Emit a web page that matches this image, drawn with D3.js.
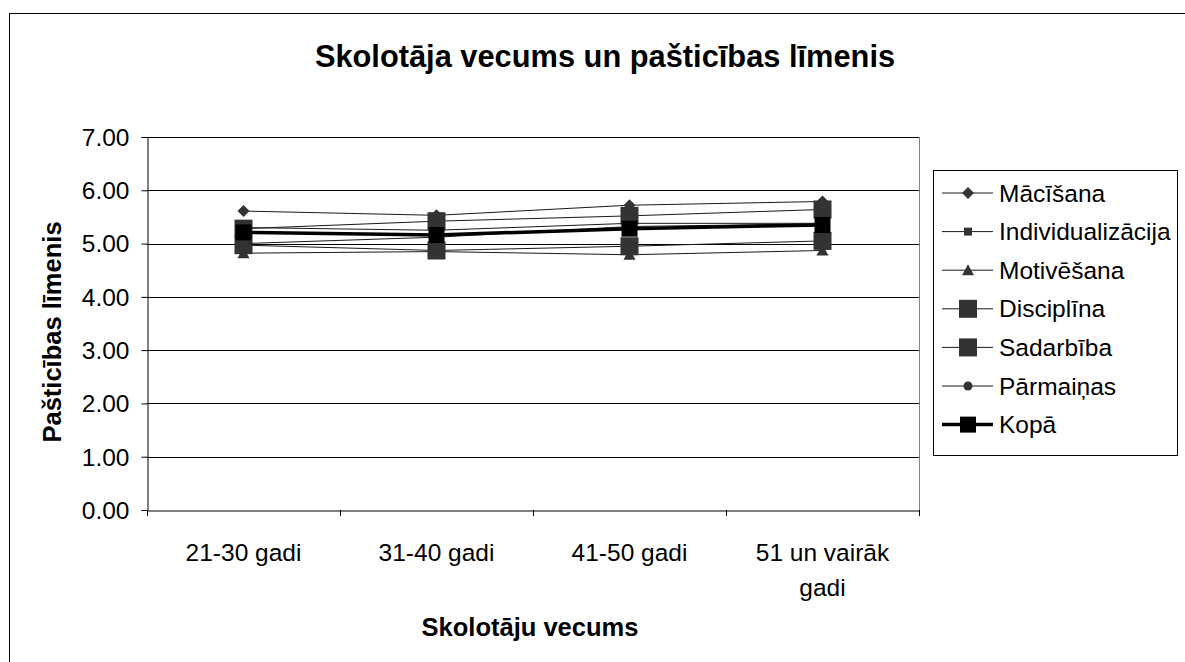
<!DOCTYPE html>
<html>
<head>
<meta charset="utf-8">
<script src="https://cdn.jsdelivr.net/npm/d3@7"></script>
<style>
  body { margin: 0; background: #fff; }
  text { font-family: "Liberation Sans", Arial, sans-serif; fill: #000; }
</style>
</head>
<body>
<script>
// data
const categories = ["21-30 gadi", "31-40 gadi", "41-50 gadi", "51 un vairāk gadi"];
const seriesNames = ["Mācīšana", "Individualizācija", "Motivēšana", "Disciplīna", "Sadarbība", "Pārmaiņas", "Kopā"];
const macisana = [5.61, 5.53, 5.72, 5.79];
const individualizacija = [5.30, 5.25, 5.38, 5.38];
const motivesana = [4.82, 4.85, 4.79, 4.87];
const disciplina = [4.97, 4.87, 4.95, 5.05];
const sadarbiba = [5.28, 5.42, 5.52, 5.64];
const parmainas = [5.00, 5.12, 5.32, 5.37];
const kopa = [5.21, 5.16, 5.28, 5.35];
const yTicks = [0, 1, 2, 3, 4, 5, 6, 7];

const allValues = [macisana, individualizacija, motivesana, disciplina, sadarbiba, parmainas, kopa];
const markers = ["diamond", "smallSquare", "triangle", "bigSquare", "bigSquare", "circle", "kopaSquare"];

const width = 1185, height = 662;
const svg = d3.select("body").append("svg").attr("width", width).attr("height", height);

// outer chart border
svg.append("rect").attr("x", 9.5).attr("y", 13.5).attr("width", width + 10).attr("height", height + 10)
   .attr("fill", "none").attr("stroke", "#000").attr("stroke-width", 1);

const plot = {left: 147, right: 919, top: 137, bottom: 510};

const x = d3.scaleBand().domain(categories).range([plot.left, plot.right]);
const y = d3.scaleLinear().domain([0, 7]).range([plot.bottom, plot.top]);

// gridlines
svg.append("g").selectAll("line").data(yTicks.slice(1)).enter().append("line")
   .attr("x1", plot.left).attr("x2", plot.right)
   .attr("y1", d => Math.round(y(d)) + 0.5).attr("y2", d => Math.round(y(d)) + 0.5)
   .attr("stroke", "#000").attr("stroke-width", 1);

// right border of plot area
svg.append("line").attr("x1", plot.right + 0.5).attr("x2", plot.right + 0.5)
   .attr("y1", plot.top).attr("y2", plot.bottom).attr("stroke", "#808080");

// y axis
const yAxis = d3.axisLeft(y).tickValues(yTicks).tickFormat(d3.format(".2f")).tickSize(6).tickPadding(12);
const gy = svg.append("g").attr("transform", `translate(${plot.left + 0.5},0)`).call(yAxis);
gy.selectAll("text").style("font-size", "24.5px").style("font-family", "Liberation Sans, Arial, sans-serif").attr("dy", "0.34em");
gy.selectAll("line").attr("stroke", "#000");
gy.select(".domain").attr("stroke", "#000");

// x axis
const xAxis = d3.axisBottom(x).tickSize(0).tickFormat("");
const gx = svg.append("g").attr("transform", `translate(0,${plot.bottom + 0.5})`).call(xAxis);
gx.select(".domain").attr("stroke", "#000");
const bounds = [0, 1, 2, 3, 4].map(i => plot.left + i * x.bandwidth());
svg.append("g").selectAll("line").data(bounds).enter().append("line")
   .attr("x1", d => Math.round(d) + 0.5).attr("x2", d => Math.round(d) + 0.5)
   .attr("y1", plot.bottom).attr("y2", plot.bottom + 6).attr("stroke", "#000");

// x labels (wrap long one)
const xl = svg.append("g").selectAll("text").data(categories).enter().append("text")
   .attr("text-anchor", "middle").style("font-size", "24.5px")
   .attr("x", d => x(d) + x.bandwidth() / 2).attr("y", 561);
xl.each(function(d) {
  const t = d3.select(this);
  if (d.length > 12) {
    const parts = ["51 un vairāk", "gadi"];
    parts.forEach((p, i) => t.append("tspan").attr("x", x(d) + x.bandwidth() / 2).attr("dy", i === 0 ? 0 : 35).text(p));
  } else {
    t.text(d);
  }
});

// title and axis titles
svg.append("text").attr("x", 605).attr("y", 67).attr("text-anchor", "middle")
   .style("font-size", "30.8px").style("font-weight", "bold").text("Skolotāja vecums un pašticības līmenis");
svg.append("text").attr("x", 530).attr("y", 636).attr("text-anchor", "middle")
   .style("font-size", "25.5px").style("font-weight", "bold").text("Skolotāju vecums");
svg.append("text").attr("transform", "translate(61,332) rotate(-90)").attr("text-anchor", "middle")
   .style("font-size", "25.5px").style("font-weight", "bold").text("Pašticības līmenis");

function drawMarker(g, type, cx, cy) {
  if (type === "diamond") {
    g.append("path").attr("d", `M${cx},${cy - 6}L${cx + 6},${cy}L${cx},${cy + 6}L${cx - 6},${cy}Z`).attr("fill", "#333");
  } else if (type === "smallSquare") {
    g.append("rect").attr("x", cx - 4).attr("y", cy - 4).attr("width", 8).attr("height", 8).attr("fill", "#333");
  } else if (type === "triangle") {
    g.append("path").attr("d", `M${cx},${cy - 6}L${cx + 6},${cy + 5}L${cx - 6},${cy + 5}Z`).attr("fill", "#333");
  } else if (type === "bigSquare") {
    g.append("rect").attr("x", cx - 9).attr("y", cy - 9).attr("width", 18).attr("height", 18).attr("fill", "#333");
  } else if (type === "circle") {
    g.append("circle").attr("cx", cx).attr("cy", cy).attr("r", 4.5).attr("fill", "#333");
  } else if (type === "kopaSquare") {
    g.append("rect").attr("x", cx - 8).attr("y", cy - 8).attr("width", 16).attr("height", 16).attr("fill", "#000");
  }
}

const line = d3.line().x((d, i) => x(categories[i]) + x.bandwidth() / 2).y(d => y(d));

// series lines and markers
allValues.forEach((vals, si) => {
  const g = svg.append("g");
  const isTotal = si === allValues.length - 1;
  g.append("path").datum(vals).attr("d", line).attr("fill", "none")
   .attr("stroke", isTotal ? "#000" : "#1a1a1a").attr("stroke-width", isTotal ? 3.5 : 1);
  vals.forEach((v, i) => drawMarker(g, markers[si], x(categories[i]) + x.bandwidth() / 2, y(v)));
});

// legend
const lg = svg.append("g");
lg.append("rect").attr("x", 933.5).attr("y", 170.5).attr("width", 244).attr("height", 285)
  .attr("fill", "#fff").attr("stroke", "#000");
seriesNames.forEach((name, i) => {
  const ly = 193 + i * 38.6;
  const isTotal = i === seriesNames.length - 1;
  const g = lg.append("g");
  g.append("line").attr("x1", 942).attr("x2", 993).attr("y1", ly).attr("y2", ly)
   .attr("stroke", isTotal ? "#000" : "#1a1a1a").attr("stroke-width", isTotal ? 3.5 : 1);
  drawMarker(g, markers[i], 968, ly);
  g.append("text").attr("x", 999).attr("y", ly + 8.5).style("font-size", "24.5px").text(name);
});
</script>
</body>
</html>
